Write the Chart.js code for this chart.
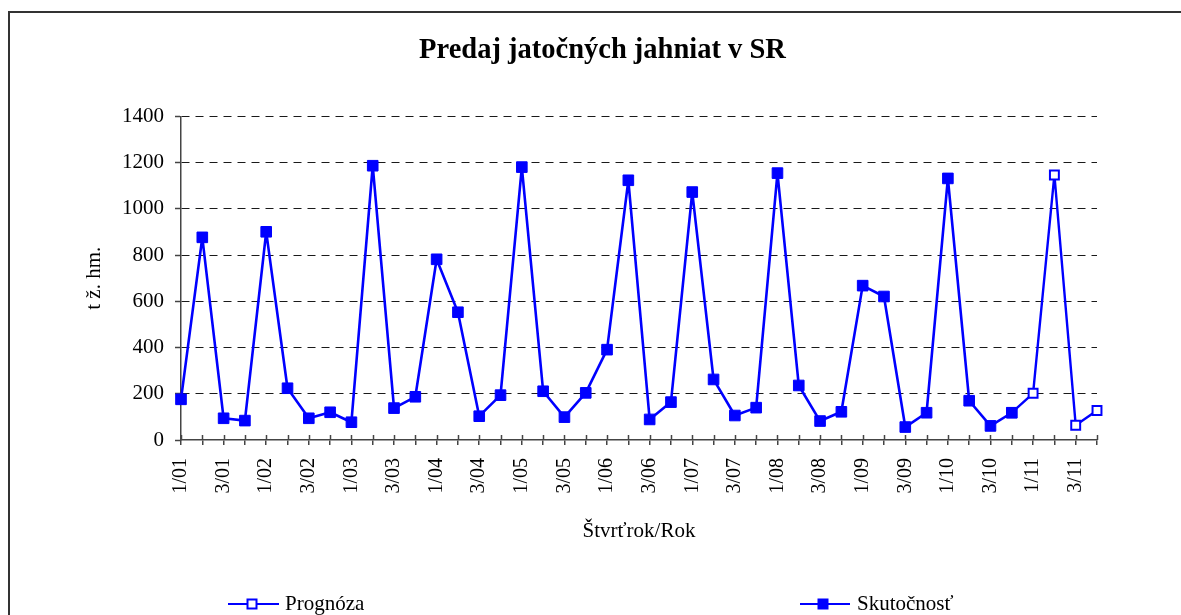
<!DOCTYPE html>
<html>
<head>
<meta charset="utf-8">
<script src="https://cdn.jsdelivr.net/npm/chart.js@4.4.1/dist/chart.umd.min.js"></script>
<style>
  html, body { margin: 0; padding: 0; background: #fff; }
  canvas { display: block; }
</style>
</head>
<body>
<canvas id="c" width="1181" height="615"></canvas>
<script>
const quarters = [
  "1/01","2/01","3/01","4/01","1/02","2/02","3/02","4/02","1/03","2/03","3/03","4/03",
  "1/04","2/04","3/04","4/04","1/05","2/05","3/05","4/05","1/06","2/06","3/06","4/06",
  "1/07","2/07","3/07","4/07","1/08","2/08","3/08","4/08","1/09","2/09","3/09","4/09",
  "1/10","2/10","3/10","4/10","1/11","2/11","3/11","4/11"
];
const skutocnost = [
  176, 877, 94, 84, 901, 224, 94, 120, 77, 1187, 138, 187,
  782, 553, 103, 194, 1181, 211, 99, 204, 391, 1124, 89, 164,
  1073, 262, 106, 140, 1155, 236, 82, 122, 668, 621, 56, 118,
  1132, 170, 61, 118, null, null, null, null
];
const prognoza = [
  null, null, null, null, null, null, null, null, null, null, null, null,
  null, null, null, null, null, null, null, null, null, null, null, null,
  null, null, null, null, null, null, null, null, null, null, null, null,
  null, null, null, 118, 202, 1147, 64, 128
];
const yTicks = [0, 200, 400, 600, 800, 1000, 1200, 1400];

const FONT = '"Liberation Serif", "Times New Roman", serif';
const BLUE = '#0000ff';
const AXIS = '#444444';

const decorPlugin = {
  id: 'decor',
  beforeDraw(chart) {
    const ctx = chart.ctx;
    ctx.save();
    ctx.fillStyle = '#fff';
    ctx.fillRect(0, 0, chart.width, chart.height);
    ctx.strokeStyle = '#333';
    ctx.lineWidth = 2;
    ctx.beginPath();
    ctx.moveTo(9, chart.height);
    ctx.lineTo(9, 12);
    ctx.lineTo(chart.width, 12);
    ctx.stroke();
    ctx.restore();
  },
  afterDraw(chart) {
    const ctx = chart.ctx;
    const xs = chart.scales.x;
    ctx.save();
    ctx.strokeStyle = AXIS;
    ctx.lineWidth = 1.5;
    ctx.beginPath();
    xs.ticks.forEach((t, i) => {
      const px = Math.round(xs.getPixelForTick(i)) + 0.5;
      ctx.moveTo(px, xs.top - 5);
      ctx.lineTo(px, xs.top);
    });
    ctx.stroke();

    const ly = 604;
    ctx.font = '21px ' + FONT;
    ctx.textBaseline = 'middle';
    const items = [
      { x1: 228, x2: 279, mx: 252, tx: 285, label: 'Prognóza', filled: false },
      { x1: 800, x2: 850, mx: 823, tx: 857, label: 'Skutočnosť', filled: true }
    ];
    items.forEach(it => {
      ctx.strokeStyle = BLUE;
      ctx.lineWidth = 2;
      ctx.beginPath();
      ctx.moveTo(it.x1, ly);
      ctx.lineTo(it.x2, ly);
      ctx.stroke();
      if (it.filled) {
        ctx.fillStyle = BLUE;
        ctx.fillRect(it.mx - 5.5, ly - 5.5, 11, 11);
      } else {
        ctx.fillStyle = '#fff';
        ctx.fillRect(it.mx - 5, ly - 5, 10, 10);
        ctx.lineWidth = 2;
        ctx.strokeRect(it.mx - 4.5, ly - 4.5, 9, 9);
      }
      ctx.fillStyle = '#000';
      ctx.textAlign = 'left';
      ctx.fillText(it.label, it.tx, ly);
    });
    ctx.restore();
  }
};

new Chart(document.getElementById('c'), {
  type: 'line',
  data: {
    labels: quarters,
    datasets: [
      {
        label: 'Prognóza',
        data: prognoza,
        order: 1,
        borderColor: BLUE,
        borderWidth: 2.4,
        borderJoinStyle: 'round',
        pointStyle: 'rect',
        pointRadius: 6.3,
        pointBackgroundColor: '#fff',
        pointBorderColor: BLUE,
        pointBorderWidth: 2,
        spanGaps: false,
        tension: 0
      },
      {
        label: 'Skutočnosť',
        data: skutocnost,
        order: 0,
        borderColor: BLUE,
        borderWidth: 2.6,
        borderJoinStyle: 'round',
        pointStyle: 'rect',
        pointRadius: 7.5,
        pointBackgroundColor: BLUE,
        pointBorderColor: BLUE,
        pointBorderWidth: 1,
        spanGaps: false,
        tension: 0
      }
    ]
  },
  options: {
    responsive: false,
    animation: false,
    devicePixelRatio: 1,
    layout: { padding: { left: 24, right: 0, top: 0, bottom: 55 } },
    plugins: {
      legend: { display: false },
      tooltip: { enabled: false },
      title: {
        display: true,
        text: 'Predaj jatočných jahniat v SR',
        color: '#000',
        font: { family: FONT, size: 28.5, weight: 'bold', lineHeight: 1.2 },
        padding: { top: 33.9, bottom: 48.4 }
      }
    },
    scales: {
      x: {
        type: 'category',
        offset: false,
        afterFit(s) { s.height = 120; },
        grid: {
          display: true,
          drawOnChartArea: false,
          drawTicks: true,
          tickLength: 5,
          tickColor: AXIS,
          tickWidth: 1.5,
          color: AXIS,
          lineWidth: 1.5
        },
        border: { display: true, color: AXIS, width: 1.5 },
        ticks: {
          autoSkip: false,
          maxRotation: 90,
          minRotation: 90,
          padding: 13,
          color: '#000',
          font: { family: FONT, size: 20 },
          callback(value, index) { return index % 2 === 0 ? quarters[index] : ''; }
        },
        title: {
          display: true,
          text: 'Štvrťrok/Rok',
          color: '#000',
          font: { family: FONT, size: 21, lineHeight: 1.2 },
          padding: { top: 0, bottom: 16.4 }
        }
      },
      y: {
        min: 0,
        max: 1400,
        afterFit(s) { s.width = 157; },
        afterBuildTicks(s) { s.ticks = yTicks.map(v => ({ value: v })); },
        grid: {
          display: true,
          drawOnChartArea: true,
          drawTicks: true,
          tickLength: 6,
          tickColor: AXIS,
          tickWidth: 1.5,
          tickBorderDash: [],
          color(ctx) { return ctx.tick && ctx.tick.value === 0 ? 'rgba(0,0,0,0)' : '#1a1a1a'; },
          lineWidth: 1
        },
        border: { display: true, color: AXIS, width: 1.5, dash: [8, 6] },
        ticks: {
          padding: 11,
          color: '#000',
          font: { family: FONT, size: 21 },
          callback(value) { return String(value); }
        },
        title: {
          display: true,
          text: 't ž. hm.',
          color: '#000',
          font: { family: FONT, size: 21, lineHeight: 1.2 },
          padding: { top: 57.4, bottom: 0 }
        }
      },
      y2: {
        position: 'right',
        display: true,
        afterFit(s) { s.width = 84; },
        grid: { display: false, drawOnChartArea: false },
        border: { display: false },
        ticks: { display: false }
      }
    }
  },
  plugins: [decorPlugin]
});
</script>
</body>
</html>
